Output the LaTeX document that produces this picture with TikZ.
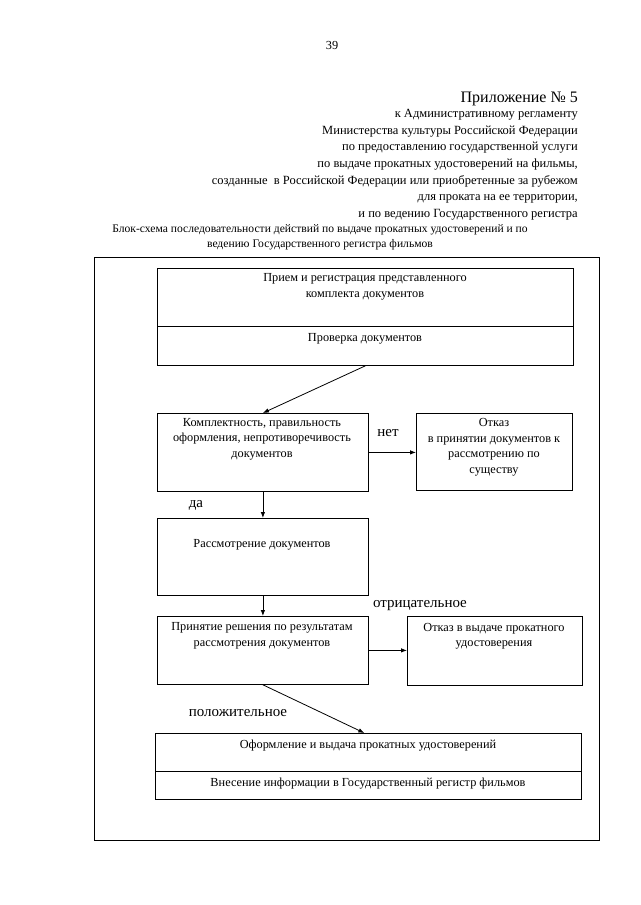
\documentclass[tikz,border=0pt]{standalone}
\usepackage{fontspec}
\setmainfont{Liberation Serif}
\usetikzlibrary{arrows.meta,calc}
\tikzset{
  box/.style={draw, line width=0.8pt, rectangle, inner sep=0pt, anchor=north west},
  txt/.style={inner sep=0pt, align=center, font=\fontsize{12.3}{15.5}\selectfont},
  lbl/.style={inner sep=0pt, font=\fontsize{15}{17}\selectfont},
  arr/.style={line width=0.8pt, -{Latex[length=6pt,width=4.5pt]}},
}
\begin{document}
\begin{tikzpicture}[x=1pt,y=-1pt]
\useasboundingbox (0,0) rectangle (640,905);
% header
\node[txt] (pagenum) at (332,45) {39};
\node[inner sep=0pt, anchor=base east, font=\fontsize{16}{18}\selectfont] (appx) at (578,102) {Приложение № 5};
\node[inner sep=0pt, anchor=north east, align=right, font=\fontsize{12.5}{16.7}\selectfont] (hdr) at (578,109)
 {к Административному регламенту\\
  Министерства культуры Российской Федерации\\
  по предоставлению государственной услуги\\
  по выдаче прокатных удостоверений на фильмы,\\
  созданные \ в Российской Федерации или приобретенные за рубежом\\
  для проката на ее территории,\\
  и по ведению Государственного регистра};
\node[inner sep=0pt, align=center, font=\fontsize{11.6}{15}\selectfont] (title) at (320,237)
 {Блок-схема последовательности действий по выдаче прокатных удостоверений и по\\
  ведению Государственного регистра фильмов};
% frame
\node[box, minimum width=505, minimum height=583] (frame) at (94,257) {};
% boxes
\node[box, minimum width=416, minimum height=97] (b1) at (157,268) {};
\draw[line width=0.8pt] (157,326) coordinate (d1a) -- (573,326) coordinate (d1b);
\node[txt] (t1) at (365,287) {Прием и регистрация представленного\\комплекта документов};
\node[txt] (t1b) at (365,339) {Проверка документов};

\node[box, minimum width=211, minimum height=78] (b2) at (157,413) {};
\node[txt] (t2) at (262,439) {Комплектность, правильность\\оформления, непротиворечивость\\документов};

\node[box, minimum width=156, minimum height=77] (o1) at (416,413) {};
\node[txt] (to1) at (494,447) {Отказ\\в принятии документов к\\рассмотрению по\\существу};

\node[box, minimum width=211, minimum height=77] (b3) at (157,518) {};
\node[txt] (t3) at (262,545) {Рассмотрение документов};

\node[box, minimum width=211, minimum height=68] (b4) at (157,616) {};
\node[txt] (t4) at (262,636) {Принятие решения по результатам\\рассмотрения документов};

\node[box, minimum width=175, minimum height=69] (o2) at (407,616) {};
\node[txt] (to2) at (494,636) {Отказ в выдаче прокатного\\удостоверения};

\node[box, minimum width=426, minimum height=66] (b5) at (155,733) {};
\draw[line width=0.8pt] (155,771) coordinate (d5a) -- (581,771) coordinate (d5b);
\node[txt] (t5) at (368,746) {Оформление и выдача прокатных удостоверений};
\node[txt] (t5b) at (368,784) {Внесение информации в Государственный регистр фильмов};

% connectors
\draw[arr] (b1.south) -- (b2.north);
\draw[arr] (b2.east) -- (b2.east -| o1.west);
\draw[arr] (b2.south) -- (b3.north);
\draw[arr] (b3.south) -- (b4.north);
\draw[arr] (b4.east) -- (b4.east -| o2.west);
\draw[arr] (b4.south) -- ([xshift=-4pt]b5.north);

% labels
\node[lbl] (lnet) at (388,433) {нет};
\node[lbl] (lda) at (196,505) {да};
\node[lbl] (lneg) at (420,606) {отрицательное};
\node[lbl] (lpos) at (238,713) {положительное};
\end{tikzpicture}
\end{document}
